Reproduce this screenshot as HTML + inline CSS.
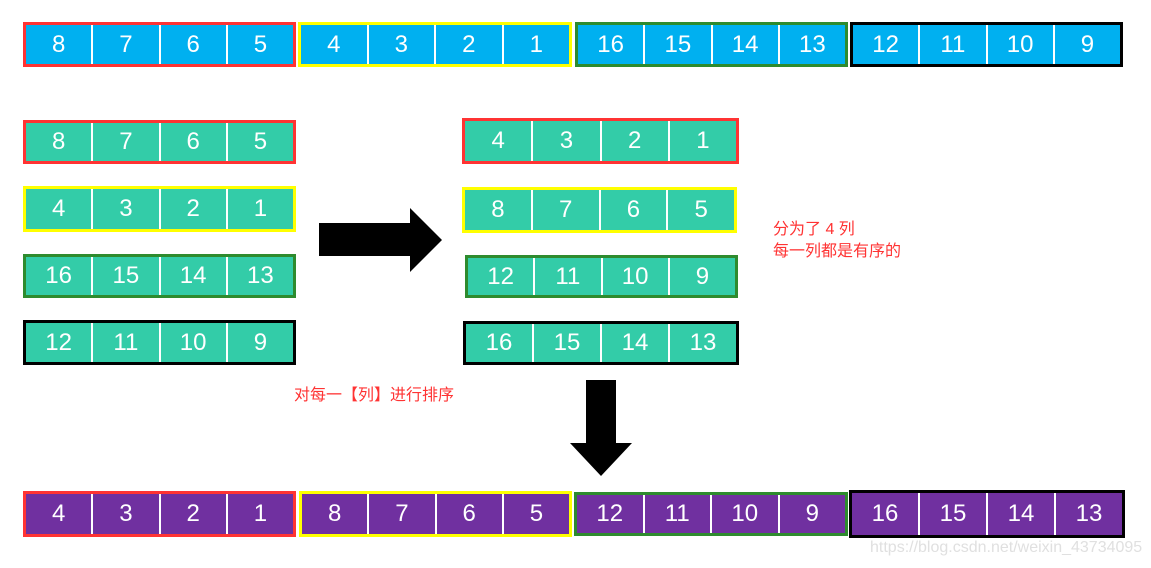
<!DOCTYPE html>
<html><head><meta charset="utf-8"><style>
body{margin:0;width:1151px;height:568px;background:#fff;position:relative;overflow:hidden;font-family:"Liberation Sans","Noto Sans CJK SC",sans-serif}
.g{position:absolute;box-sizing:border-box;border:3px solid;display:flex}
.g div{flex:1;color:#fff;font-size:24px;display:flex;align-items:center;justify-content:center;border-left:2px solid #fff}
.g div:first-child{border-left:none}
.b div{background:#00B0F0}.t div{background:#33CCA8}.p div{background:#7030A0}
.r{border-color:#FF3333}.y{border-color:#FFFF00}.gr{border-color:#2E8B2E}.k{border-color:#000}
.lbl{position:absolute;color:#FF3333;font-size:16px;line-height:22px}
</style></head><body>
<div class="g b r" style="left:23px;top:22px;width:273px;height:45px"><div>8</div><div>7</div><div>6</div><div>5</div></div>
<div class="g b y" style="left:298px;top:22px;width:274px;height:45px"><div>4</div><div>3</div><div>2</div><div>1</div></div>
<div class="g b gr" style="left:575px;top:22px;width:273px;height:45px"><div>16</div><div>15</div><div>14</div><div>13</div></div>
<div class="g b k" style="left:850px;top:22px;width:273px;height:45px"><div>12</div><div>11</div><div>10</div><div>9</div></div>

<div class="g t r" style="left:23px;top:120px;width:273px;height:44px"><div>8</div><div>7</div><div>6</div><div>5</div></div>
<div class="g t y" style="left:23px;top:186px;width:273px;height:46px"><div>4</div><div>3</div><div>2</div><div>1</div></div>
<div class="g t gr" style="left:23px;top:254px;width:273px;height:44px"><div>16</div><div>15</div><div>14</div><div>13</div></div>
<div class="g t k" style="left:23px;top:320px;width:273px;height:45px"><div>12</div><div>11</div><div>10</div><div>9</div></div>

<div class="g t r" style="left:462px;top:118px;width:277px;height:46px"><div>4</div><div>3</div><div>2</div><div>1</div></div>
<div class="g t y" style="left:462px;top:187px;width:275px;height:46px"><div>8</div><div>7</div><div>6</div><div>5</div></div>
<div class="g t gr" style="left:465px;top:255px;width:273px;height:43px"><div>12</div><div>11</div><div>10</div><div>9</div></div>
<div class="g t k" style="left:463px;top:321px;width:276px;height:44px"><div>16</div><div>15</div><div>14</div><div>13</div></div>

<div class="g p r" style="left:23px;top:491px;width:273px;height:46px"><div>4</div><div>3</div><div>2</div><div>1</div></div>
<div class="g p y" style="left:299px;top:491px;width:273px;height:46px"><div>8</div><div>7</div><div>6</div><div>5</div></div>
<div class="g p gr" style="left:574px;top:492px;width:274px;height:44px"><div>12</div><div>11</div><div>10</div><div>9</div></div>
<div class="g p k" style="left:849px;top:490px;width:276px;height:48px"><div>16</div><div>15</div><div>14</div><div>13</div></div>

<svg style="position:absolute;left:0;top:0" width="1151" height="568">
<polygon points="319,223 410,223 410,208 442,240 410,272 410,256 319,256" fill="#000"/>
<polygon points="586,380 616,380 616,443 632,443 601,476 570,443 586,443" fill="#000"/>
</svg>
<div class="lbl" style="left:773px;top:219px">分为了 4 列<br>每一列都是有序的</div>
<div class="lbl" style="left:294px;top:385px">对每一【列】进行排序</div>
<div style="position:absolute;left:870px;top:539px;color:#e0e0e0;font-size:16px">https://blog.csdn.net/weixin_43734095</div>
</body></html>
